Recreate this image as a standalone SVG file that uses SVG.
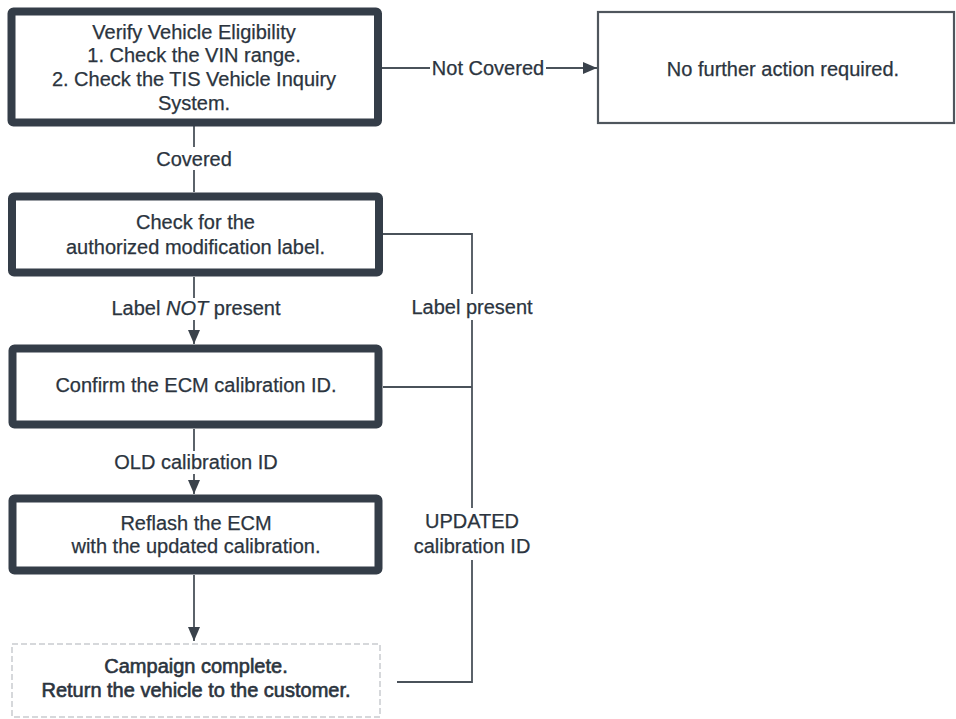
<svg xmlns="http://www.w3.org/2000/svg" width="956" height="719" viewBox="0 0 956 719">
  <style>
    text { font-family: "Liberation Sans", Arial, sans-serif; font-size: 20px; fill: #2b343e; text-anchor: middle; stroke: #2b343e; stroke-width: 0.25; }
    .heavy { stroke-width: 0.6; }
    .thick { fill: #ffffff; stroke: #343d48; stroke-width: 8; }
    .thin { fill: #ffffff; stroke: #4f565d; stroke-width: 2.2; }
    .faint { fill: #ffffff; stroke: #c9cccf; stroke-width: 1.5; stroke-dasharray: 6 3; }
    .conn { fill: none; stroke: #4a525a; stroke-width: 1.8; }
  </style>
  <defs>
    <marker id="arrow" viewBox="0 0 14 12" refX="14" refY="6" markerWidth="14" markerHeight="12" markerUnits="userSpaceOnUse" orient="auto">
      <path d="M0,0 L14,6 L0,12 Z" fill="#3a424b"/>
    </marker>
  </defs>
  <rect width="956" height="719" fill="#ffffff"/>

  <g id="connectors">
    <!-- Not Covered -->
    <path class="conn" d="M381,68 H430"/>
    <path class="conn" d="M546,68 H597" marker-end="url(#arrow)"/>
    <text x="488" y="75">Not Covered</text>
    <!-- Covered -->
    <path class="conn" d="M194,126 V147"/>
    <path class="conn" d="M194,170 V192"/>
    <text x="194" y="166">Covered</text>
    <!-- Label NOT present -->
    <path class="conn" d="M194,277 V298"/>
    <path class="conn" d="M194,320 V344" marker-end="url(#arrow)"/>
    <text x="196" y="315">Label <tspan font-style="italic">NOT</tspan> present</text>
    <!-- OLD calibration ID -->
    <path class="conn" d="M194,429 V451"/>
    <path class="conn" d="M194,474 V494" marker-end="url(#arrow)"/>
    <text x="196" y="469">OLD calibration ID</text>
    <!-- Reflash to Campaign -->
    <path class="conn" d="M194,575 V641" marker-end="url(#arrow)"/>
    <!-- Label present / UPDATED -->
    <path class="conn" d="M383,234 H472 V294"/>
    <path class="conn" d="M472,320 V508"/>
    <path class="conn" d="M383,387 H472"/>
    <path class="conn" d="M472,560 V682 H397"/>
    <text x="472" y="314">Label present</text>
    <text x="472" y="528">UPDATED</text>
    <text x="472" y="553">calibration ID</text>
  </g>

  <g id="verify">
    <rect class="thick" x="11.5" y="11.5" width="366.5" height="111" rx="2" stroke-width="7"/>
    <text x="194" y="38.5">Verify Vehicle Eligibility</text>
    <text x="194" y="62">1. Check the VIN range.</text>
    <text x="194" y="86">2. Check the TIS Vehicle Inquiry</text>
    <text x="194" y="110">System.</text>
  </g>

  <g id="no-action">
    <rect class="thin" x="598" y="12" width="356" height="111"/>
    <text x="783" y="76">No further action required.</text>
  </g>

  <g id="check-label">
    <rect class="thick" x="12" y="196.5" width="367" height="76" rx="2" stroke-width="9"/>
    <text x="195.5" y="229">Check for the</text>
    <text x="195.5" y="254">authorized modification label.</text>
  </g>

  <g id="confirm-ecm">
    <rect class="thick" x="12.5" y="348.5" width="366" height="76" rx="2" stroke-width="9"/>
    <text x="196" y="392">Confirm the ECM calibration ID.</text>
  </g>

  <g id="reflash">
    <rect class="thick" x="12.5" y="498.5" width="366" height="72" rx="2" stroke-width="9"/>
    <text x="196" y="530">Reflash the ECM</text>
    <text x="196" y="553">with the updated calibration.</text>
  </g>

  <g id="campaign-complete">
    <rect class="faint" x="12" y="644" width="368" height="73"/>
    <text class="heavy" x="196" y="673">Campaign complete.</text>
    <text class="heavy" x="196" y="697">Return the vehicle to the customer.</text>
  </g>
</svg>
